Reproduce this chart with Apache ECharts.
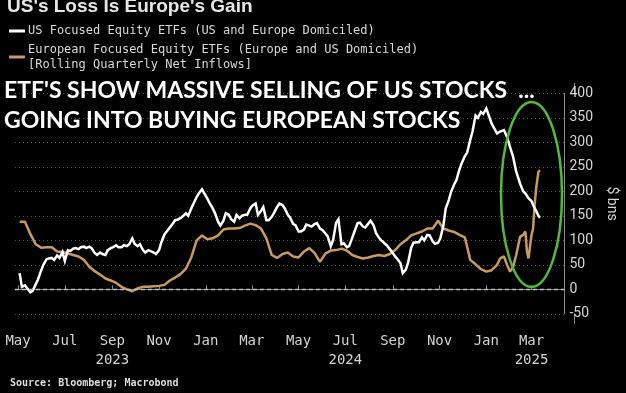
<!DOCTYPE html>
<html><head><meta charset="utf-8">
<script src="https://cdn.jsdelivr.net/npm/echarts@6/dist/echarts.min.js"></script>
<style>html,body{margin:0;padding:0;background:#000;}#c{width:626px;height:393px;}</style>
</head><body><div id="c"></div>
<script>
// European focused ETFs: dates and values
const euDates = [
'2023-05-03','2023-05-10','2023-05-17','2023-05-24','2023-05-31',
'2023-06-07','2023-06-14','2023-06-21','2023-06-28',
'2023-07-05','2023-07-12','2023-07-19','2023-07-26',
'2023-08-02','2023-08-09','2023-08-16','2023-08-23','2023-08-30',
'2023-09-06','2023-09-13','2023-09-20','2023-09-27',
'2023-10-04','2023-10-11','2023-10-18','2023-10-25',
'2023-11-01','2023-11-08','2023-11-15','2023-11-22','2023-11-29',
'2023-12-06','2023-12-13','2023-12-20','2023-12-27',
'2024-01-03','2024-01-10','2024-01-17','2024-01-24','2024-01-31',
'2024-02-07','2024-02-14','2024-02-21','2024-02-28',
'2024-03-06','2024-03-13','2024-03-20','2024-03-27',
'2024-04-03','2024-04-10','2024-04-17','2024-04-24',
'2024-05-01','2024-05-08','2024-05-15','2024-05-22','2024-05-29',
'2024-06-05','2024-06-12','2024-06-19','2024-06-26',
'2024-07-03','2024-07-10','2024-07-17','2024-07-24','2024-07-31',
'2024-08-07','2024-08-14','2024-08-21','2024-08-28',
'2024-09-04','2024-09-11','2024-09-18','2024-09-25',
'2024-10-02','2024-10-09','2024-10-16','2024-10-23','2024-10-30',
'2024-11-06','2024-11-13','2024-11-20','2024-11-27',
'2024-12-04','2024-12-11','2024-12-18','2024-12-25',
'2025-01-01','2025-01-08','2025-01-15','2025-01-19','2025-01-24','2025-01-28',
'2025-02-01','2025-02-05','2025-02-09','2025-02-14','2025-02-18','2025-02-21','2025-02-23','2025-02-25',
'2025-03-01','2025-03-03','2025-03-05','2025-03-07','2025-03-10','2025-03-12'
];
const europeFlows = [
138, 138, 113, 92, 85,
86, 86, 77, 76,
73, 70, 67, 60,
46, 37, 30, 22, 18,
13, 5, 0, -4,
2, 5, 5, 6,
7, 9, 18, 24, 31,
42, 65, 100, 110,
102, 104, 110, 122, 124,
124, 125, 130, 134,
131, 124, 104, 70,
64, 72, 75, 67,
65, 77, 84, 74, 56,
73, 79, 80, 83,
79, 70, 66, 63, 65,
68, 70, 68, 72,
80, 92, 100, 110,
114, 118, 124, 124, 140,
124, 120, 117, 111,
106, 60, 51, 41,
36, 39, 50, 63, 67, 50,
36, 46, 70, 107, 111, 118, 77, 63,
111, 124, 172, 206, 240, 243
];

// US focused ETFs: dates and values
const usDates = [
'2023-05-03','2023-05-06','2023-05-10','2023-05-13','2023-05-17','2023-05-20','2023-05-24','2023-05-27','2023-05-31','2023-06-03',
'2023-06-07','2023-06-10','2023-06-14','2023-06-17','2023-06-21','2023-06-24','2023-06-28','2023-07-01',
'2023-07-05','2023-07-08','2023-07-12','2023-07-15','2023-07-19','2023-07-22','2023-07-26','2023-07-29',
'2023-08-02','2023-08-05','2023-08-09','2023-08-12','2023-08-16','2023-08-19','2023-08-23','2023-08-26','2023-08-30','2023-09-02',
'2023-09-06','2023-09-09','2023-09-13','2023-09-16','2023-09-20','2023-09-23','2023-09-27','2023-09-30',
'2023-10-04','2023-10-07','2023-10-11','2023-10-14','2023-10-18','2023-10-21','2023-10-25','2023-10-28',
'2023-11-01','2023-11-04','2023-11-08','2023-11-11','2023-11-15','2023-11-18','2023-11-22','2023-11-25','2023-11-29','2023-12-02',
'2023-12-06','2023-12-09','2023-12-13','2023-12-16','2023-12-20','2023-12-23','2023-12-27','2023-12-30',
'2024-01-03','2024-01-06','2024-01-10','2024-01-13','2024-01-17','2024-01-20','2024-01-24','2024-01-27','2024-01-31','2024-02-03',
'2024-02-07','2024-02-10','2024-02-14','2024-02-17','2024-02-21','2024-02-24','2024-02-28','2024-03-02',
'2024-03-06','2024-03-09','2024-03-13','2024-03-16','2024-03-20','2024-03-23','2024-03-27','2024-03-30',
'2024-04-03','2024-04-06','2024-04-10','2024-04-13','2024-04-17','2024-04-20','2024-04-24','2024-04-27',
'2024-05-01','2024-05-04','2024-05-08','2024-05-11','2024-05-15','2024-05-18','2024-05-22','2024-05-25','2024-05-29','2024-06-01',
'2024-06-05','2024-06-08','2024-06-12','2024-06-15','2024-06-19','2024-06-22','2024-06-26','2024-06-29',
'2024-07-03','2024-07-06','2024-07-10','2024-07-13','2024-07-17','2024-07-20','2024-07-24','2024-07-27','2024-07-31','2024-08-03',
'2024-08-07','2024-08-10','2024-08-14','2024-08-17','2024-08-21','2024-08-24','2024-08-28','2024-08-31',
'2024-09-04','2024-09-07','2024-09-11','2024-09-14','2024-09-18','2024-09-21','2024-09-25','2024-09-28',
'2024-10-02','2024-10-05','2024-10-09','2024-10-12','2024-10-16','2024-10-19','2024-10-23','2024-10-26','2024-10-30','2024-11-02',
'2024-11-06','2024-11-09','2024-11-13','2024-11-16','2024-11-20','2024-11-23','2024-11-27','2024-11-30',
'2024-12-04','2024-12-07','2024-12-11','2024-12-14','2024-12-18','2024-12-21','2024-12-25','2024-12-28',
'2025-01-01','2025-01-08','2025-01-15','2025-01-19','2025-01-24','2025-01-28',
'2025-02-01','2025-02-05','2025-02-09','2025-02-14','2025-02-18','2025-02-21','2025-02-23','2025-02-25',
'2025-03-01','2025-03-03','2025-03-05','2025-03-07','2025-03-10','2025-03-12'
];
const usFlows = [
33,5, 8,2, -6,-3, 10,20, 38,50,
61,63, 64,60, 69,64, 76,58,
80,78, 83,84, 82,86, 87,84,
87,84, 74,70, 75,72, 70,80, 84,86,
90,86, 86,90, 88,92, 104,93,
88,92, 80,75, 80,78, 75,72,
80,96, 112,118, 126,132, 141,142, 145,149,
155,150, 165,175, 188,196, 204,196,
185,176, 165,155, 138,130, 140,155, 152,143,
138,152, 145,150, 152,152, 165,171,
175,152, 160,168, 141,141, 148,156,
168,175, 172,165, 152,146, 133,131,
118,118, 122,132, 130,128, 133,135, 124,121,
114,108, 88,100, 136,143, 92,94,
86,88, 105,118, 135,136, 128,126, 134,140,
130,115, 105,100, 94,90, 82,76,
67,62, 53,33, 40,55, 85,95,
96,96, 106,100, 111,110, 98,93, 95,104,
130,165, 182,199, 214,223, 245,258,
272,279, 305,322, 355,350, 362,358,
369, 338, 318, 322, 325, 311,
290, 270, 240, 216, 200, 196, 193, 186,
180, 172, 166, 160, 150, 146
];

const monthTicks = ['2023-05-01','2023-07-01','2023-09-01','2023-11-01','2024-01-01','2024-03-01',
                    '2024-05-01','2024-07-01','2024-09-01','2024-11-01','2025-01-01','2025-03-01'];
const monthLabels = ['May','Jul','Sep','Nov','Jan','Mar','May','Jul','Sep','Nov','Jan','Mar'];
const yearTicks = ['2023-09-01','2024-07-01','2025-03-01'];
const yearLabels = ['2023','2024','2025'];

const titleText = "US's Loss Is Europe's Gain";
const legendUS = 'US Focused Equity ETFs (US and Europe Domiciled)';
const legendEU1 = 'European Focused Equity ETFs (Europe and US Domiciled)';
const legendEU2 = '[Rolling Quarterly Net Inflows]';
const overlay1 = "ETF'S SHOW MASSIVE SELLING OF US STOCKS  ...";
const overlay2 = 'GOING INTO BUYING EUROPEAN STOCKS';
const sourceText = 'Source: Bloomberg; Macrobond';

function ts(s){const p=s.split('-').map(Number);return Date.UTC(p[0],p[1]-1,p[2]);}
const tickVals = monthTicks.map(ts);
const yearVals = yearTicks.map(ts);

const WHITE = '#ffffff', ORANGE = '#c99a5f', AXIS = '#8a8a8a';

const chart = echarts.init(document.getElementById('c'), null, {renderer:'canvas'});
const option = {
  backgroundColor:'#000000',
  animation:false,
  grid:{left:15,right:52,top:93.3,bottom:79.2,containLabel:false},
  xAxis:{
    type:'value', min:ts('2023-04-27'), max:ts('2025-04-13'), offset:10,
    axisLine:{show:true,lineStyle:{color:AXIS,width:1}},
    axisTick:{show:true,inside:true,length:4,lineStyle:{color:AXIS},customValues:tickVals},
    axisLabel:{
      customValues:tickVals,
      formatter:function(v){
        const i = tickVals.indexOf(v);
        let s = i>=0 ? monthLabels[i] : '';
        const j = yearVals.indexOf(v);
        if(j>=0) s += '\n' + yearLabels[j];
        return s;
      },
      color:'#d4d4d4', fontFamily:'DejaVu Sans Mono', fontSize:14, lineHeight:19, margin:8
    },
    splitLine:{show:false}
  },
  yAxis:{
    type:'value', position:'right', min:-50, max:400, interval:50,
    name:'$ bns', nameLocation:'middle', nameRotate:-90, nameGap:38,
    nameTextStyle:{color:'#d4d4d4',fontFamily:'Roboto',fontSize:14},
    axisLine:{show:true,lineStyle:{color:AXIS}},
    axisTick:{show:false},
    axisLabel:{color:'#d4d4d4',fontFamily:'Roboto',fontSize:14,margin:5},
    splitLine:{show:true,lineStyle:{color:'#555555',type:[1,3],width:1}}
  },
  series:[
    {name:legendEU1,type:'line',data:euDates.map((d,i)=>[ts(d),europeFlows[i]]),showSymbol:false,
     lineStyle:{color:ORANGE,width:2.5},itemStyle:{color:ORANGE},z:3,
     markLine:{silent:true,symbol:['none','none'],label:{show:false},
       lineStyle:{color:'#bdbdbd',type:[4,3],width:1.3},data:[{yAxis:0}]}},
    {name:legendUS,type:'line',data:usDates.map((d,i)=>[ts(d),usFlows[i]]),showSymbol:false,
     lineStyle:{color:WHITE,width:2.5,join:'miter'},itemStyle:{color:WHITE},z:4}
  ],
  graphic:[
    {type:'line',shape:{x1:574.5,y1:83,x2:574.5,y2:93.5},style:{stroke:AXIS,lineWidth:1}},
    {type:'line',shape:{x1:574.5,y1:313.5,x2:574.5,y2:324},style:{stroke:AXIS,lineWidth:1}},
    {type:'text',x:7,y:7,style:{text:titleText,fill:'#e6e6e6',font:'bold 19px "Liberation Sans"',verticalAlign:'middle'}},
    {type:'line',shape:{x1:9,y1:31,x2:25,y2:31},style:{stroke:WHITE,lineWidth:3}},
    {type:'text',x:28,y:31,style:{text:legendUS,fill:'#d8d8d8',font:'12px "DejaVu Sans Mono"',verticalAlign:'middle'}},
    {type:'line',shape:{x1:9,y1:57,x2:25,y2:57},style:{stroke:ORANGE,lineWidth:3}},
    {type:'text',x:28,y:50,style:{text:legendEU1,fill:'#d8d8d8',font:'12px "DejaVu Sans Mono"',verticalAlign:'middle'}},
    {type:'text',x:28,y:65,style:{text:legendEU2,fill:'#d8d8d8',font:'12px "DejaVu Sans Mono"',verticalAlign:'middle'}},
    {type:'text',x:4,y:91,z:10,style:{text:overlay1,fill:'#ffffff',font:'bold 23px Lato',verticalAlign:'middle'}},
    {type:'text',x:4,y:121,z:10,style:{text:overlay2,fill:'#ffffff',font:'bold 23px Lato',verticalAlign:'middle'}},
    {type:'text',x:10,y:383,style:{text:sourceText,fill:'#dddddd',font:'bold 10px "DejaVu Sans Mono"',verticalAlign:'middle'}},
    {type:'ellipse',z:20,shape:{cx:531.5,cy:194.5,rx:30.5,ry:92.5},style:{fill:'none',stroke:'#55b83e',lineWidth:2.5}}
  ]
};
chart.setOption(option);
</script>
</body></html>
